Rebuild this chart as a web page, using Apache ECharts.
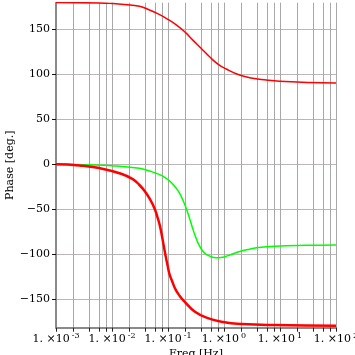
<!DOCTYPE html>
<html><head><meta charset="utf-8">
<script src="https://cdn.jsdelivr.net/npm/echarts@6/dist/echarts.min.js"></script>
<style>html,body{margin:0;padding:0;background:#fff}#c{width:355px;height:355px}</style>
</head><body><div id="c"></div>
<script>
// Lower red curve (0 -> -180)
const freqRed1 = [0.001, 0.00261, 0.00596, 0.01456, 0.02344, 0.0309, 0.038, 0.0467, 0.0575, 0.0649, 0.0708, 0.0765, 0.0831, 0.0902, 0.0979, 0.1063, 0.1204, 0.1362, 0.1606, 0.197, 0.2985, 0.515, 1.026, 2.04, 8.04, 100];
const phaseRed1 = [0, -1.2, -4.2, -10.5, -16.5, -23, -29.5, -38, -49, -59, -67, -77, -89, -101, -112, -122, -131, -139, -146, -152.5, -163.5, -171, -175.6, -177.4, -178.6, -179.3];
// Upper red curve (180 -> 90)
const freqRed2 = [0.001, 0.00596, 0.01, 0.0166, 0.0309, 0.0467, 0.0708, 0.0929, 0.1403, 0.2042, 0.278, 0.3926, 0.552, 0.778, 1.099, 1.901, 2.871, 5.715, 9.886, 30.9, 100];
const phaseRed2 = [179.8, 179.3, 178.7, 177.6, 175.6, 171.5, 166.3, 162.3, 155, 146.6, 138, 128.8, 119.5, 111.4, 105.9, 99.2, 96.3, 93.7, 92.3, 91, 90.4];
// Green curve (0 -> dip about -104 -> -90)
const freqGreen = [0.001, 0.00321, 0.01, 0.0309, 0.0467, 0.0708, 0.0929, 0.1155, 0.1403, 0.1606, 0.1841, 0.2056, 0.226, 0.2506, 0.278, 0.3079, 0.341, 0.3926, 0.4315, 0.482, 0.5926, 0.7284, 0.8693, 1.175, 1.547, 2.04, 2.871, 4.04, 8.04, 31.6, 100];
const phaseGreen = [0, -0.5, -1.5, -4.5, -7.5, -11.5, -15.6, -20.5, -26.7, -32, -39.7, -47, -54, -63, -72, -80, -87, -94, -97.5, -100, -102.8, -103.8, -103.6, -101.5, -98.8, -96.3, -94.3, -92.6, -91.1, -90.1, -89.7];

const xLabelTicks = [0.001, 0.01, 0.1, 1, 10, 100];
const xGridTicks = [0.001,0.002,0.004,0.006,0.008, 0.01,0.02,0.04,0.06,0.08, 0.1,0.2,0.4,0.6,0.8, 1,2,4,6,8, 10,20,40,60,80, 100];
const yTicks = [-150, -100, -50, 0, 50, 100, 150];

const zip = (xs, ys) => xs.map((x, i) => [x, ys[i]]);
const FONT = 'DejaVu Serif';

const chart = echarts.init(document.getElementById('c'), null, {renderer: 'canvas'});
chart.setOption({
  animation: false,
  backgroundColor: '#fff',
  grid: {left: 56, right: 19, top: 2.7, bottom: 27.3, containLabel: false, outerBoundsMode: 'none'},
  xAxis: {
    type: 'log', logBase: 10, min: 0.001, max: 100,
    name: 'Freq [Hz]', nameLocation: 'middle', nameGap: 21, nameMoveOverlap: false,
    nameTextStyle: {fontFamily: FONT, fontSize: 11, color: '#000'},
    axisLine: {show: true, onZero: false, lineStyle: {color: '#8a8a8a', width: 2}},
    axisTick: {show: true, length: 4, customValues: xGridTicks, lineStyle: {color: '#222'}},
    minorTick: {show: false},
    axisLabel: {
      customValues: xLabelTicks, margin: 4, hideOverlap: false,
      formatter: v => '{b|1. ×10}{s|' + Math.round(Math.log10(v)) + '}',
      rich: {
        b: {fontFamily: FONT, fontSize: 11, color: '#000'},
        s: {fontFamily: FONT, fontSize: 8, color: '#000', padding: [0, 0, 6, 2]}
      }
    },
    splitLine: {show: true, lineStyle: {color: '#a8a8a8', width: 1}}
  },
  yAxis: {
    type: 'value', min: -181.6, max: 179.6,
    name: 'Phase [deg.]', nameLocation: 'middle', nameGap: 40, nameRotate: 90, nameMoveOverlap: false,
    nameTextStyle: {fontFamily: FONT, fontSize: 11, color: '#000'},
    axisLine: {show: true, lineStyle: {color: '#8a8a8a', width: 2}},
    axisTick: {show: true, length: 4, customValues: yTicks, lineStyle: {color: '#111'}},
    axisLabel: {
      customValues: yTicks, margin: 6,
      fontFamily: FONT, fontSize: 11, color: '#000',
      formatter: v => String(v).replace('-', '−')
    },
    splitLine: {show: true, lineStyle: {color: '#bdb6b6', width: 1}}
  },
  series: [
    {type: 'line', data: zip(freqRed2, phaseRed2), showSymbol: false, smooth: 0.5,
     lineStyle: {color: '#ff0000', width: 1.5}},
    {type: 'line', data: zip(freqGreen, phaseGreen), showSymbol: false, smooth: 0.5,
     lineStyle: {color: '#00ff00', width: 1.5}},
    {type: 'line', data: zip(freqRed1, phaseRed1), showSymbol: false, smooth: 0.5,
     lineStyle: {color: '#ff0000', width: 2.5}}
  ]
});
</script>
</body></html>
